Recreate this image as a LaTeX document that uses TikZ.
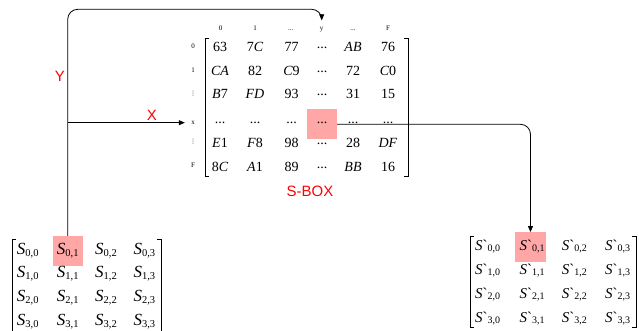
\documentclass[tikz,border=0pt]{standalone}
\usepackage{fontspec}
\setmainfont{Liberation Serif}
\newfontfamily\arialfont{Liberation Sans}
\newfontfamily\dejavufont{DejaVu Sans}
\usetikzlibrary{arrows.meta}
\definecolor{hlred}{RGB}{255,166,166}
\definecolor{labred}{RGB}{255,0,0}
\newcommand{\rdots}{\raisebox{3pt}{...}}
\newcommand{\pdots}{...}
\newcommand{\vdts}{{\dejavufont\fontsize{6}{6}\selectfont ⋮}}
\newcommand{\lsub}[1]{\raisebox{-2.5pt}{\fontsize{10.5}{10.5}\selectfont #1}}
\newcommand{\rsub}[1]{\raisebox{-1.5pt}{\fontsize{10}{10}\selectfont #1}}
\begin{document}
\begin{tikzpicture}[x=1pt,y=-1pt,
  hlbox/.style={fill=hlred, draw=none, minimum width=30pt, minimum height=30pt, inner sep=0pt},
  ent/.style={font=\fontsize{14}{14}\selectfont, anchor=base, inner sep=0pt},
  collab/.style={font=\fontsize{7}{7}\selectfont, anchor=base, inner sep=0pt, text height=10pt, text depth=1pt},
  rowlab/.style={font=\fontsize{7}{7}\selectfont, inner sep=0pt, minimum width=16pt},
  lent/.style={font=\fontsize{17}{17}\selectfont, anchor=base west, inner sep=0pt},
  rent/.style={font=\fontsize{15}{15}\selectfont, anchor=base west, inner sep=0pt},
  redlab/.style={font=\arialfont\fontsize{15}{15}\selectfont, text=labred, inner sep=0pt},
  brack/.style={line width=0.8pt},
  conn/.style={line width=0.8pt, rounded corners=10pt, -{Triangle[length=6pt,width=5pt]}}
]
\useasboundingbox (0,0) rectangle (639,330);

% highlights
\node[hlbox] (HL) at (67.7,251) {};
\node[hlbox] (HS) at (322,124.3) {};
\node[hlbox, minimum width=31pt, minimum height=29.5pt] (HR) at (530.5,247) {};

% S-box column labels
\node[collab] (c0) at (220.7,30.5) {0};
\node[collab] (c1) at (255,30.5) {1};
\node[collab] (c2) at (290.7,30.5) {\pdots};
\node[collab] (cy) at (321.7,30.5) {y};
\node[collab] (c4) at (353,30.5) {\pdots};
\node[collab] (cF) at (388,30.5) {F};

% S-box row labels
\node[rowlab] (r0) at (193,46.7) {0};
\node[rowlab] (r1) at (193,70) {1};
\node[rowlab] (r2) at (193,93.3) {\vdts};
\node[rowlab] (rx) at (193,122.7) {x};
\node[rowlab] (r4) at (193,141.7) {\vdts};
\node[rowlab] (rF) at (193,165) {F};

% S-box entries
\foreach \yy/\rn/\a/\b/\c/\d/\e/\f in {
  51.7/0/63/7\textit{C}/77/\rdots/\textit{AB}/76,
  75/1/\textit{CA}/82/\textit{C}9/\rdots/72/\textit{C}0,
  98.3/2/\textit{B}7/\textit{FD}/93/\rdots/31/15,
  123/3/\pdots/\pdots/\pdots/\pdots/\pdots/\pdots,
  147.7/4/\textit{E}1/\textit{F}8/98/\rdots/28/\textit{DF},
  171.7/5/8\textit{C}/\textit{A}1/89/\rdots/\textit{BB}/16}{
  \node[ent] (E\rn a) at (220,\yy) {\a};
  \node[ent] (E\rn b) at (255,\yy) {\b};
  \node[ent] (E\rn c) at (291.5,\yy) {\c};
  \node[ent] (E\rn d) at (322,\yy) {\d};
  \node[ent] (E\rn e) at (353,\yy) {\e};
  \node[ent] (E\rn f) at (388,\yy) {\f};
}

% S-box brackets
\draw[brack] (209,38) -- (205,38) -- (205,176) -- (209,176);
\draw[brack] (404,38) -- (408,38) -- (408,176) -- (404,176);
\node[redlab] (sbox) at (310,191.7) {S-BOX};

% left matrix
\foreach \r/\yy in {0/254.3,1/277,2/301,3/325}{
  \foreach \c/\xx in {0/16.7,1/56.7,2/95,3/133.3}{
    \node[lent] (L\r\c) at (\xx,\yy) {\textit{S}\lsub{\r,\c}};
  }
}
\draw[brack] (16,239) -- (12,239) -- (12,331);
\draw[brack] (157,239) -- (161,239) -- (161,331);

% right matrix
\foreach \r/\yy in {0/250,1/274.3,2/298.3,3/322.3}{
  \foreach \c/\xx in {0/475,1/519.3,2/561.7,3/605}{
    \node[rent] (R\r\c) at (\xx,\yy) {\textit{S}\textasciigrave\rsub{\r,\c}};
  }
}
\draw[brack] (474,236) -- (470,236) -- (470,327) -- (474,327);
\draw[brack] (632,236) -- (636,236) -- (636,327) -- (632,327);

% red labels
\node[redlab] (Ylab) at (60,76) {Y};
\node[redlab] (Xlab) at (152,115) {X};

% connectors
\coordinate (ytop) at (67.7,9.3);
\draw[conn] (HL.north) -- (HL.north |- ytop) -- (cy.north |- ytop) -- (cy.north);
\coordinate (xsplit) at (HL.north |- rx);
\draw[conn] (xsplit) -- (rx.west);
\draw[conn] (HS.east) -- (HR.north |- HS.east) -- (HR.north);
\end{tikzpicture}
\end{document}
